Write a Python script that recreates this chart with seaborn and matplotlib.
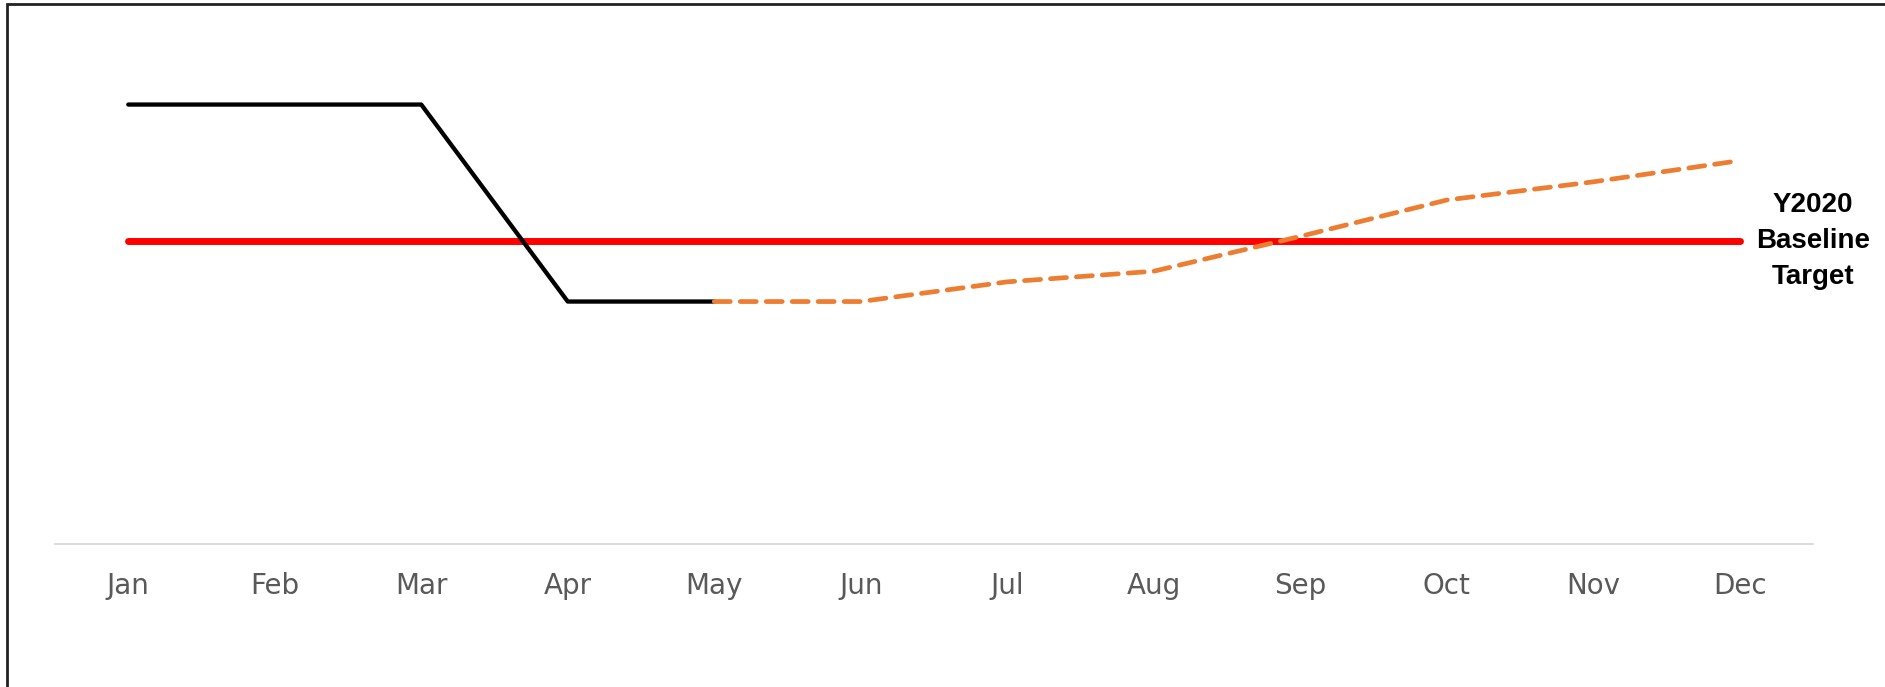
import numpy as np
import pandas as pd
import matplotlib
matplotlib.use("Agg")
import matplotlib.pyplot as plt
import seaborn as sns
from matplotlib.patches import Rectangle

# --- data (baseline = 100)
months = ["Jan", "Feb", "Mar", "Apr", "May", "Jun",
          "Jul", "Aug", "Sep", "Oct", "Nov", "Dec"]
actual = [145, 145, 145, 80, 80, np.nan, np.nan, np.nan, np.nan, np.nan, np.nan, np.nan]
forecast = [np.nan, np.nan, np.nan, np.nan, 80, 80, 86.5, 90, 101.5, 113.5, 119.5, 126.5]
baseline = [100] * 12
baseline_label = "Y2020\nBaseline\nTarget"

df = pd.DataFrame({
    "pos": np.arange(len(months)),
    "month": months,
    "actual": actual,
    "forecast": forecast,
    "baseline": baseline,
})

sns.set_style("white")
plt.rcParams["font.family"] = ["DejaVu Sans"]

fig = plt.figure(figsize=(18.85, 6.87), dpi=100)
ax = fig.add_axes([55 / 1885, 1 - 544 / 687, (1813 - 55) / 1885, (544 - 40) / 687])

# baseline target (drawn first, lines cross over it)
sns.lineplot(data=df, x="pos", y="baseline", ax=ax, color="#FF0000",
             linewidth=5, solid_capstyle="round")
# actuals
sns.lineplot(data=df.dropna(subset=["actual"]), x="pos", y="actual", ax=ax,
             color="black", linewidth=3.1)
# forecast
line_fc = sns.lineplot(data=df.dropna(subset=["forecast"]), x="pos", y="forecast",
                       ax=ax, color="#ED7D31", linewidth=3.4)
line_fc.lines[-1].set_dashes((3.4, 2.1))
line_fc.lines[-1].set_dash_capstyle("round")

ax.text(len(months) - 0.5, baseline[-1], baseline_label, ha="center", va="center",
        fontsize=20, fontweight="bold", color="black",
        family=["Liberation Sans", "DejaVu Sans"], linespacing=1.5, clip_on=False)

ax.set_xlim(-0.5, len(months) - 0.5)
ax.set_ylim(0, 166.3)
ax.set_xticks(df["pos"])
ax.set_xticklabels(months)
ax.set_yticks([])
ax.set_xlabel("")
ax.set_ylabel("")
ax.tick_params(axis="x", length=0, pad=20, labelsize=20, labelcolor="#595959")

for side in ["top", "right", "left"]:
    ax.spines[side].set_visible(False)
ax.spines["bottom"].set_color("#D9D9D9")
ax.spines["bottom"].set_linewidth(1.3)

# outer frame (only top and left edges show in the crop)
fig.add_artist(Rectangle((7 / 1885, -0.2), 1.5, 1.2 - 4 / 687, fill=False,
                         edgecolor="#222222", linewidth=2, transform=fig.transFigure))

fig.savefig("out.png", dpi=100)
